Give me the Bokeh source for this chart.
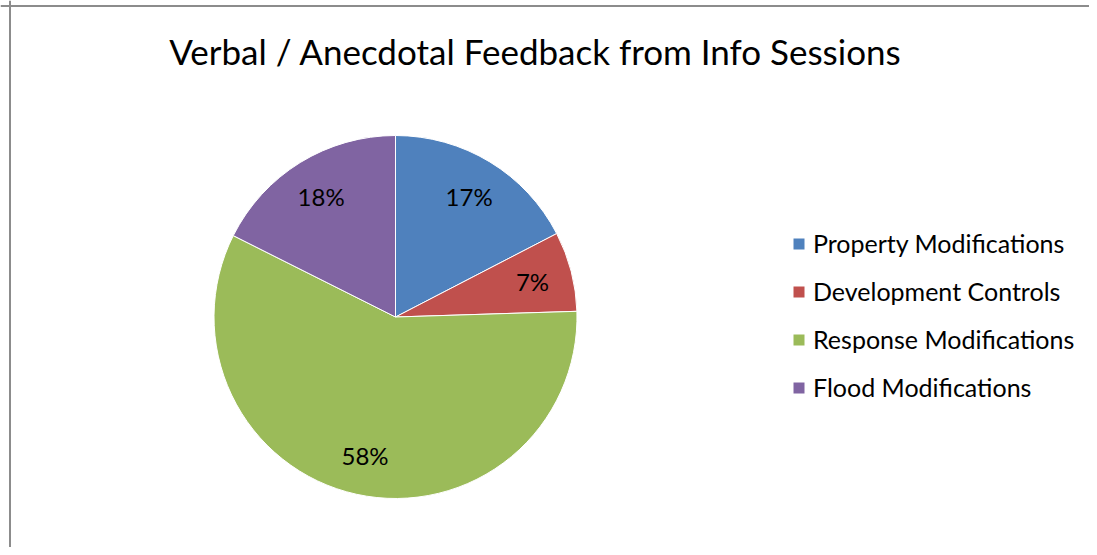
import math
from bokeh.plotting import figure
from bokeh.models import ColumnDataSource, Legend, LegendItem, Label, Span, Range1d
from bokeh.core.properties import value
from bokeh.embed import file_html
from bokeh.resources import INLINE

# ---- data ----
title_text = "Verbal / Anecdotal Feedback from Info Sessions"
categories = ["Property Modifications", "Development Controls", "Response Modifications", "Flood Modifications"]
shares = [17.4, 7.1, 57.9, 17.6]
colors = ["#4F81BD", "#C0504D", "#9BBB59", "#8064A2"]

FONT = "Lato"
W, H = 1089, 547
p = figure(width=W, height=H, output_backend="svg", toolbar_location=None,
           x_range=Range1d(0, W), y_range=Range1d(0, H), min_border=0)
p.axis.visible = False
p.grid.visible = False
p.outline_line_color = None
p.background_fill_color = "white"
p.border_fill_color = "white"

# border (left and top only visible in reference)
p.add_layout(Span(location=9.5, dimension="height", line_color="#8C8C8C", line_width=2))
p.add_layout(Span(location=H - 5.5, dimension="width", line_color="#8C8C8C", line_width=2))

cx, cy, R = 395, H - 316.5, 181.5
total = sum(shares)
starts, ends, lx, ly, labels = [], [], [], [], []
cum = 0.0
for s in shares:
    a0 = math.pi / 2 - 2 * math.pi * (cum + s) / total
    a1 = math.pi / 2 - 2 * math.pi * cum / total
    starts.append(a0)
    ends.append(a1)
    mid = (a0 + a1) / 2
    lx.append(cx + 0.78 * R * math.cos(mid))
    ly.append(cy + 0.78 * R * math.sin(mid))
    labels.append(f"{round(100 * s / total)}%")
    cum += s

src = ColumnDataSource(dict(cat=categories, start=starts, end=ends, color=colors,
                            lx=lx, ly=ly, label=labels))
r = p.wedge(x=cx, y=cy, radius=R, radius_units="screen", start_angle="start", end_angle="end",
            fill_color="color", line_color="white", line_width=1, source=src)
p.text(x="lx", y="ly", text="label", source=src, text_align="center", text_baseline="middle",
       text_font=value(FONT), text_font_size="24px", text_color="black")

p.add_layout(Label(x=535, y=H - 50, x_units="screen", y_units="screen", text=title_text,
                   text_font=FONT, text_font_size="35px", text_align="center",
                   text_baseline="alphabetic", text_color="black"))

items = [LegendItem(label=c, renderers=[r], index=i) for i, c in enumerate(categories)]
legend = Legend(items=items, location=(791, 145), orientation="vertical",
                glyph_width=15, glyph_height=15, label_height=30, spacing=18,
                label_standoff=7, padding=0, margin=0,
                label_text_font=FONT, label_text_font_size="25px", label_text_color="black",
                background_fill_alpha=0, border_line_color=None)
p.add_layout(legend)

open("out.html", "w").write(file_html(p, INLINE))
